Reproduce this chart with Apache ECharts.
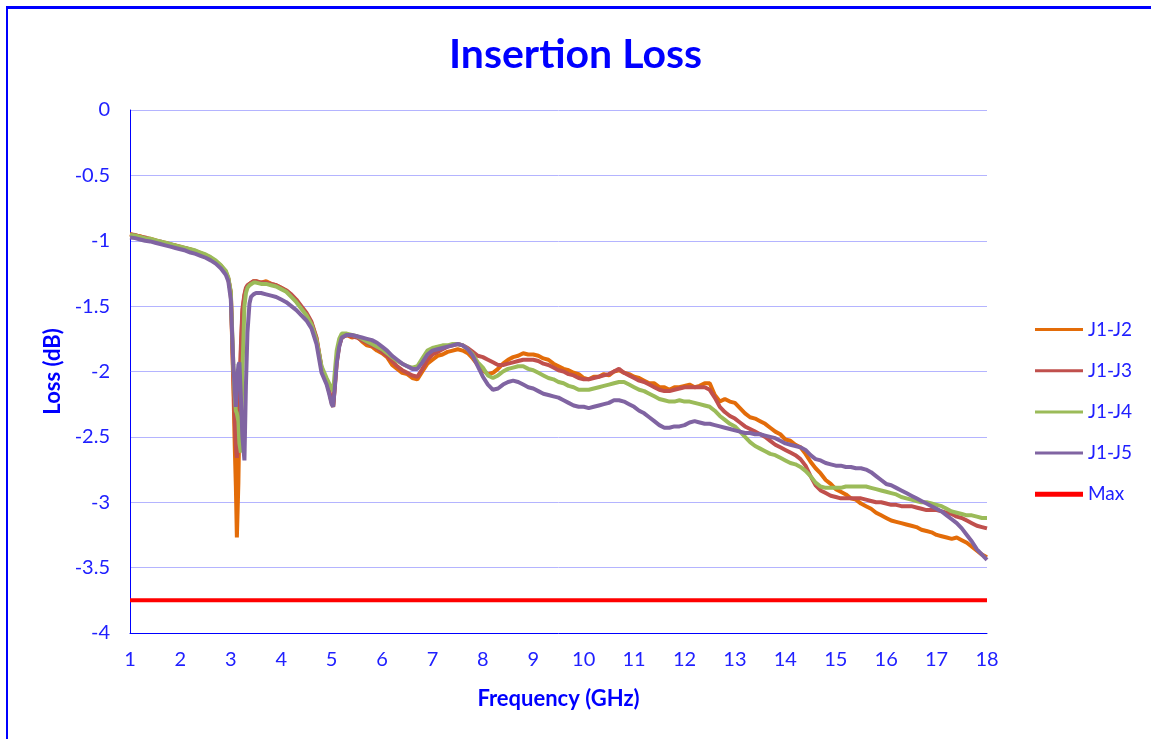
<!DOCTYPE html>
<html>
<head>
<meta charset="utf-8">
<script src="https://cdn.jsdelivr.net/npm/echarts@6/dist/echarts.min.js"></script>
<style>
html,body{margin:0;padding:0;background:#fff;}
#frame{position:absolute;left:6px;top:6px;width:1145px;height:733px;border-left:2px solid #0000ff;border-top:3px solid #0000ff;box-sizing:border-box;}
#chart{position:absolute;left:0;top:0;width:1151px;height:739px;}
</style>
</head>
<body>
<div id="frame"></div>
<div id="chart"></div>
<script>
const freq = [
1.0,1.1,1.2,1.3,1.4,1.5,1.6,1.7,1.8,1.9,2.0,2.1,2.2,2.3,2.4,2.5,2.6,2.7,2.8,2.9,
2.95,3.0,3.05,3.08,3.1,3.12,3.15,3.17,3.2,3.23,3.27,3.3,3.33,3.37,3.4,3.45,3.5,
3.6,3.7,3.8,3.9,4.0,4.1,4.2,4.3,4.4,4.5,4.6,4.7,4.8,
4.9,4.95,5.0,5.03,5.07,5.1,5.15,5.2,
5.3,5.4,5.5,5.6,5.7,5.8,5.9,
6.0,6.1,6.2,6.3,6.4,6.5,6.6,6.7,6.8,6.9,
7.0,7.1,7.2,7.3,7.4,7.5,7.6,7.7,7.8,7.9,
8.0,8.1,8.2,8.3,8.4,8.5,8.6,8.7,8.8,8.9,
9.0,9.1,9.2,9.3,9.4,9.5,9.6,9.7,9.8,9.9,
10.0,10.1,10.2,10.3,10.4,10.5,10.6,10.7,10.8,10.9,
11.0,11.1,11.2,11.3,11.4,11.5,11.6,11.7,11.8,11.9,
12.0,12.1,12.2,12.3,12.4,12.5,12.6,12.7,12.8,12.9,
13.0,13.1,13.2,13.3,13.4,13.5,13.6,13.7,13.8,13.9,
14.0,14.1,14.2,14.3,14.4,14.5,14.6,14.7,14.8,14.9,
15.0,15.1,15.2,15.3,15.4,15.5,15.6,15.7,15.8,15.9,
16.0,16.1,16.2,16.3,16.4,16.5,16.6,16.7,16.8,16.9,
17.0,17.1,17.2,17.3,17.4,17.5,17.6,17.7,17.8,17.9,
18.0
];

const j1j2 = [
-0.95,-0.96,-0.965,-0.98,-0.985,-0.995,-1.01,-1.015,-1.03,-1.035,-1.045,-1.06,-1.065,-1.08,-1.095,-1.11,-1.13,-1.16,-1.19,-1.24,
-1.29,-1.40,-2.10,-2.60,-2.88,-3.27,-2.85,-2.35,-1.85,-1.55,-1.42,-1.37,-1.35,-1.33,-1.32,-1.31,-1.31,
-1.32,-1.31,-1.33,-1.34,-1.36,-1.38,-1.42,-1.46,-1.51,-1.56,-1.63,-1.75,-1.98,
-2.08,-2.15,-2.24,-2.27,-2.08,-1.93,-1.80,-1.74,
-1.72,-1.74,-1.73,-1.77,-1.80,-1.81,-1.84,
-1.86,-1.89,-1.95,-1.98,-2.01,-2.02,-2.05,-2.06,-2.00,-1.94,
-1.91,-1.88,-1.87,-1.85,-1.84,-1.83,-1.84,-1.86,-1.90,-1.95,
-1.99,-2.02,-2.01,-1.98,-1.94,-1.91,-1.89,-1.88,-1.86,-1.87,
-1.87,-1.88,-1.90,-1.91,-1.94,-1.96,-1.98,-1.99,-2.01,-2.02,
-2.05,-2.06,-2.04,-2.04,-2.02,-2.03,-2.00,-1.99,-2.01,-2.02,
-2.04,-2.05,-2.07,-2.09,-2.09,-2.12,-2.12,-2.14,-2.12,-2.12,
-2.11,-2.10,-2.12,-2.11,-2.09,-2.09,-2.18,-2.23,-2.21,-2.23,
-2.24,-2.28,-2.32,-2.35,-2.36,-2.38,-2.40,-2.43,-2.46,-2.48,
-2.52,-2.53,-2.56,-2.58,-2.63,-2.69,-2.74,-2.78,-2.83,-2.86,
-2.90,-2.92,-2.94,-2.97,-2.98,-3.01,-3.03,-3.05,-3.08,-3.10,
-3.12,-3.14,-3.15,-3.16,-3.17,-3.18,-3.19,-3.21,-3.22,-3.23,
-3.25,-3.26,-3.27,-3.28,-3.27,-3.29,-3.31,-3.34,-3.37,-3.40,
-3.42
];

const j1j3 = [
-0.95,-0.955,-0.97,-0.975,-0.99,-1.0,-1.005,-1.02,-1.025,-1.04,-1.05,-1.055,-1.07,-1.085,-1.1,-1.115,-1.135,-1.16,-1.195,-1.24,
-1.29,-1.40,-2.05,-2.40,-2.58,-2.66,-2.50,-2.15,-1.80,-1.52,-1.41,-1.36,-1.34,-1.33,-1.32,-1.31,-1.31,
-1.32,-1.32,-1.33,-1.34,-1.36,-1.38,-1.41,-1.45,-1.50,-1.55,-1.62,-1.74,-1.97,
-2.08,-2.15,-2.23,-2.26,-2.07,-1.92,-1.80,-1.74,
-1.72,-1.73,-1.74,-1.76,-1.78,-1.80,-1.82,
-1.85,-1.88,-1.92,-1.96,-1.99,-2.01,-2.03,-2.04,-1.98,-1.91,
-1.87,-1.85,-1.83,-1.81,-1.80,-1.79,-1.80,-1.82,-1.85,-1.88,
-1.89,-1.91,-1.93,-1.95,-1.95,-1.94,-1.93,-1.92,-1.91,-1.91,
-1.91,-1.92,-1.94,-1.95,-1.97,-1.99,-2.00,-2.02,-2.03,-2.05,
-2.06,-2.06,-2.05,-2.04,-2.03,-2.02,-2.00,-1.98,-2.01,-2.03,
-2.05,-2.07,-2.08,-2.10,-2.12,-2.14,-2.15,-2.15,-2.14,-2.13,
-2.12,-2.12,-2.12,-2.12,-2.12,-2.14,-2.20,-2.27,-2.31,-2.34,
-2.36,-2.39,-2.42,-2.44,-2.46,-2.48,-2.50,-2.53,-2.56,-2.58,
-2.60,-2.62,-2.64,-2.67,-2.72,-2.80,-2.87,-2.91,-2.93,-2.95,
-2.96,-2.97,-2.97,-2.97,-2.97,-2.97,-2.98,-2.99,-3.00,-3.00,
-3.01,-3.02,-3.02,-3.03,-3.03,-3.03,-3.04,-3.05,-3.06,-3.06,
-3.06,-3.07,-3.08,-3.09,-3.11,-3.12,-3.14,-3.16,-3.18,-3.19,
-3.20
];

const j1j4 = [
-0.955,-0.96,-0.97,-0.98,-0.985,-0.995,-1.005,-1.015,-1.025,-1.035,-1.045,-1.055,-1.065,-1.075,-1.09,-1.105,-1.125,-1.15,-1.185,-1.23,
-1.28,-1.39,-1.95,-2.20,-2.30,-2.32,-2.38,-2.55,-2.62,-2.00,-1.50,-1.40,-1.36,-1.34,-1.33,-1.32,-1.32,
-1.33,-1.33,-1.34,-1.35,-1.37,-1.39,-1.43,-1.47,-1.52,-1.57,-1.64,-1.76,-1.96,
-2.05,-2.09,-2.13,-2.15,-1.97,-1.84,-1.75,-1.71,
-1.71,-1.72,-1.73,-1.75,-1.77,-1.79,-1.81,
-1.83,-1.86,-1.89,-1.92,-1.94,-1.96,-1.97,-1.96,-1.90,-1.84,
-1.82,-1.81,-1.80,-1.80,-1.79,-1.79,-1.80,-1.83,-1.87,-1.93,
-1.97,-2.03,-2.05,-2.03,-2.00,-1.98,-1.97,-1.96,-1.96,-1.98,
-1.99,-2.01,-2.03,-2.05,-2.06,-2.08,-2.09,-2.11,-2.12,-2.14,
-2.14,-2.14,-2.13,-2.12,-2.11,-2.10,-2.09,-2.08,-2.08,-2.10,
-2.12,-2.14,-2.15,-2.17,-2.19,-2.21,-2.22,-2.23,-2.23,-2.22,
-2.23,-2.23,-2.24,-2.25,-2.26,-2.27,-2.30,-2.34,-2.37,-2.40,
-2.42,-2.46,-2.50,-2.54,-2.57,-2.59,-2.61,-2.63,-2.64,-2.66,
-2.68,-2.70,-2.71,-2.73,-2.76,-2.80,-2.85,-2.88,-2.89,-2.89,
-2.89,-2.89,-2.88,-2.88,-2.88,-2.88,-2.88,-2.89,-2.90,-2.91,
-2.92,-2.93,-2.94,-2.96,-2.97,-2.98,-2.99,-3.00,-3.00,-3.01,
-3.02,-3.03,-3.05,-3.07,-3.08,-3.09,-3.10,-3.10,-3.11,-3.12,
-3.12
];

const j1j5 = [
-0.975,-0.98,-0.99,-1.0,-1.005,-1.015,-1.025,-1.035,-1.045,-1.055,-1.065,-1.075,-1.09,-1.1,-1.115,-1.13,-1.15,-1.175,-1.21,-1.26,
-1.31,-1.45,-1.95,-2.15,-2.27,-2.10,-1.95,-1.93,-2.20,-2.50,-2.68,-2.10,-1.70,-1.48,-1.43,-1.41,-1.40,
-1.40,-1.41,-1.42,-1.43,-1.45,-1.47,-1.50,-1.53,-1.57,-1.61,-1.67,-1.79,-2.01,
-2.10,-2.17,-2.25,-2.27,-2.09,-1.94,-1.81,-1.74,
-1.72,-1.72,-1.73,-1.74,-1.75,-1.76,-1.78,
-1.81,-1.84,-1.88,-1.91,-1.94,-1.96,-1.98,-1.98,-1.93,-1.87,
-1.84,-1.83,-1.82,-1.81,-1.80,-1.79,-1.80,-1.83,-1.88,-1.96,
-2.04,-2.10,-2.14,-2.13,-2.10,-2.08,-2.07,-2.08,-2.10,-2.12,
-2.13,-2.15,-2.17,-2.18,-2.19,-2.20,-2.22,-2.24,-2.26,-2.27,
-2.27,-2.28,-2.27,-2.26,-2.25,-2.24,-2.22,-2.22,-2.23,-2.25,
-2.27,-2.30,-2.32,-2.35,-2.38,-2.41,-2.43,-2.43,-2.42,-2.42,
-2.41,-2.39,-2.38,-2.39,-2.40,-2.40,-2.41,-2.42,-2.43,-2.44,
-2.45,-2.46,-2.47,-2.47,-2.48,-2.48,-2.49,-2.50,-2.51,-2.53,
-2.55,-2.56,-2.57,-2.58,-2.60,-2.64,-2.67,-2.68,-2.70,-2.71,
-2.72,-2.72,-2.73,-2.73,-2.74,-2.74,-2.75,-2.77,-2.80,-2.83,
-2.86,-2.87,-2.89,-2.91,-2.93,-2.95,-2.97,-2.99,-3.01,-3.03,
-3.05,-3.07,-3.10,-3.13,-3.16,-3.20,-3.25,-3.30,-3.36,-3.40,
-3.44
];

const maxFreq = [1, 18];
const maxLoss = [-3.75, -3.75];

const seriesNames = ['J1-J2','J1-J3','J1-J4','J1-J5','Max'];
const seriesColors = ['#E36C09','#C0504D','#9BBB59','#8064A2','#FF0000'];

function pairs(xs, ys){ return xs.map((x,i)=>[x, ys[i]]); }

const FONT = 'Lato';
const thinIcon = 'path://M0,0 L48,0 L48,3 L0,3 Z';
const thickIcon = 'path://M0,0 L48,0 L48,5 L0,5 Z';
const chart = echarts.init(document.getElementById('chart'));
const mk = (i, data, w) => ({
  name: seriesNames[i], type: 'line', data: data, symbol: 'none', smooth: false,
  lineStyle: {color: seriesColors[i], width: w}, itemStyle: {color: seriesColors[i]},
  animation: false, z: i === 4 ? 1 : 2
});
chart.setOption({
  animation: false,
  title: {text: 'Insertion Loss', left: 'center', top: 29,
    textStyle: {fontFamily: FONT, fontSize: 41, fontWeight: 'bold', color: '#0000ff'}},
  grid: {left: 130, right: 164, top: 110, bottom: 106},
  legend: {orient: 'vertical', left: 1035, top: 320, padding: 0, itemWidth: 48, itemHeight: 20, itemGap: 22.2,
    data: seriesNames.map((n, i) => ({name: n, icon: i === 4 ? thickIcon : thinIcon})),
    textStyle: {fontFamily: FONT, fontSize: 19, color: '#2020ff'}},
  xAxis: {type: 'value', min: 1, max: 18, interval: 1,
    name: 'Frequency (GHz)', nameLocation: 'middle', nameGap: 55,
    nameTextStyle: {fontFamily: FONT, fontSize: 22, fontWeight: 'bold', color: '#0000ff'},
    axisLine: {show: true, onZero: false, lineStyle: {color: '#0000ff', width: 1}},
    axisTick: {show: false},
    splitLine: {show: false},
    axisLabel: {fontFamily: FONT, fontSize: 20, color: '#2020ff', margin: 17}},
  yAxis: {type: 'value', min: -4, max: 0, interval: 0.5,
    name: 'Loss (dB)', nameLocation: 'middle', nameGap: 66, nameRotate: 90,
    nameTextStyle: {fontFamily: FONT, fontSize: 22, fontWeight: 'bold', color: '#0000ff'},
    axisLine: {show: true, lineStyle: {color: '#0000ff', width: 1}},
    axisTick: {show: false},
    splitLine: {show: true, lineStyle: {color: '#b4b4ff', width: 1}},
    axisLabel: {fontFamily: FONT, fontSize: 20, color: '#2020ff', margin: 20}},
  series: [
    mk(4, pairs(maxFreq, maxLoss), 4),
    mk(0, pairs(freq, j1j2), 4),
    mk(1, pairs(freq, j1j3), 4),
    mk(2, pairs(freq, j1j4), 4),
    mk(3, pairs(freq, j1j5), 4)
  ]
});
</script>
</body>
</html>
